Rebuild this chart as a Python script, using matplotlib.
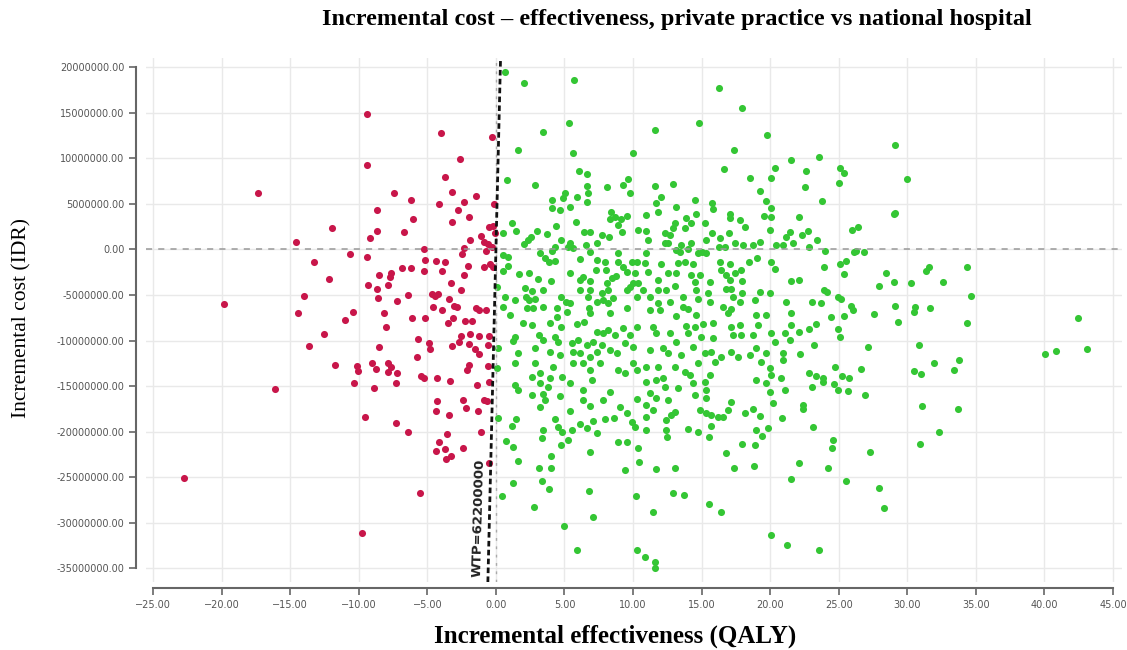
import numpy as np
import matplotlib
matplotlib.use("Agg")
import matplotlib.pyplot as plt
from matplotlib.ticker import FuncFormatter

# (incremental QALY, incremental cost in millions IDR)
red_points = [
    (-17.33, 6.23), (-11.98, 2.33), (-14.58, 0.79), (-13.29, -1.34), (-12.15, -3.27),
    (-14.02, -5.10), (-19.83, -6.02), (-14.43, -7.00), (-12.52, -9.31), (-13.65, -10.56),
    (-11.74, -12.65), (-16.13, -15.35), (-22.75, -25.05),
    (-9.43, 14.84), (-4.00, 12.75), (-0.26, 12.38), (-9.43, 9.24), (-2.64, 9.97),
    (-3.69, 7.92), (-7.46, 6.20), (-3.18, 6.27), (-6.17, 5.40), (-4.13, 5.00),
    (-2.33, 5.25), (-1.43, 5.91), (-8.65, 4.37), (-2.76, 4.30), (-6.07, 3.35),
    (-1.99, 3.53), (-3.18, 2.98), (-8.70, 2.07), (-6.73, 1.92), (-9.16, 1.22),
    (-1.91, 1.00), (-1.09, 1.52), (-0.50, 2.50), (-0.87, 0.86), (-0.60, 0.60),
    (-2.30, 0.16), (-5.22, 0.05), (-0.70, -0.13), (-10.62, -0.50), (-9.43, -0.79),
    (-2.47, -0.53), (-5.15, -1.19), (-4.35, -1.26), (-3.71, -1.41), (-2.06, -1.78),
    (-0.41, -1.59), (-0.87, -1.89), (-6.85, -2.07), (-6.17, -2.07), (-5.27, -2.36),
    (-3.96, -2.36), (-8.55, -2.80), (-7.65, -2.62), (-2.35, -2.80), (-7.72, -3.06),
    (-7.85, -3.90), (-9.33, -3.86), (-3.25, -3.64), (-8.65, -4.37), (-2.57, -4.45),
    (-8.60, -5.29), (-7.24, -5.69), (-6.44, -5.00), (-4.69, -4.92), (-4.44, -5.11),
    (-4.20, -4.92), (-4.56, -6.28), (-3.96, -6.61), (-3.40, -5.40), (-3.08, -6.20),
    (-2.81, -6.35), (-1.45, -6.46), (-1.23, -6.64), (-0.75, -6.64), (-10.40, -6.90),
    (-11.03, -7.74), (-8.16, -6.97), (-6.12, -7.52), (-5.17, -7.48), (-7.99, -8.55),
    (-3.47, -8.07), (-3.10, -7.56), (-2.25, -7.85), (-1.77, -7.85), (-5.71, -9.79),
    (-4.88, -10.30), (-4.83, -10.89), (-2.52, -9.46), (-1.87, -9.28), (-1.21, -9.46),
    (-0.50, -9.53), (-2.69, -10.12), (-3.18, -10.59), (-1.97, -10.41), (-1.52, -10.96),
    (-1.21, -11.51), (-0.55, -10.48), (-8.53, -10.67), (-5.73, -11.76), (-10.13, -12.75),
    (-10.06, -13.34), (-9.06, -12.46), (-8.75, -13.08), (-7.85, -12.46), (-7.68, -12.90),
    (-7.85, -13.41), (-7.24, -13.59), (-5.46, -13.89), (-5.22, -14.14), (-4.32, -14.14),
    (-1.97, -12.68), (-2.13, -13.23), (-0.55, -12.79), (-10.35, -14.69), (-8.87, -15.20),
    (-7.29, -14.69), (-3.32, -14.40), (-1.38, -14.84), (-0.53, -14.58), (-4.30, -16.67),
    (-4.39, -17.73), (-2.42, -16.48), (-2.21, -17.40), (-1.30, -17.73), (-0.89, -16.52),
    (-0.62, -16.59), (-9.52, -18.39), (-3.40, -18.13), (-7.26, -19.08), (-6.44, -20.03),
    (-3.59, -20.29), (-4.17, -21.09), (-4.39, -22.08), (-3.71, -21.94), (-3.64, -23.04),
    (-3.30, -22.67), (-2.42, -21.79), (-1.06, -20.03), (-0.50, -23.47), (-5.51, -26.77),
    (-9.79, -31.08), (-0.15, 5.00), (-0.20, 2.60), (-0.10, 1.80), (-0.25, 0.30),
    (-0.20, -1.90),
]

green_points = [
    # upper left block
    (0.66, 19.45), (2.07, 18.24), (5.70, 18.60), (5.33, 13.92), (3.46, 12.90),
    (1.59, 10.92), (5.60, 10.63), (9.98, 10.56), (6.04, 8.62), (6.62, 8.25),
    (0.83, 7.63), (2.88, 7.08), (6.62, 6.90), (8.08, 6.82), (9.66, 7.77),
    (9.30, 7.04), (6.69, 6.24), (5.04, 6.16), (4.92, 5.62), (5.89, 5.73),
    (4.09, 5.43), (6.67, 5.25), (9.78, 6.16), (4.12, 4.52), (4.68, 4.33),
    (5.40, 4.70), (8.40, 4.15), (8.69, 3.60), (8.32, 3.31), (9.10, 3.31),
    (9.54, 3.68), (1.15, 2.94), (4.38, 2.61), (5.84, 2.98), (0.54, 1.85),
    (1.47, 2.07), (2.97, 2.07), (3.75, 1.70), (6.45, 1.92), (6.86, 1.92),
    (7.74, 1.63), (8.27, 1.37), (8.88, 2.72), (9.20, 1.92), (10.34, 2.14),
    (2.56, 1.41), (2.32, 1.04), (2.07, 0.60), (4.72, 1.04), (5.40, 0.68),
    (5.23, 0.31), (5.60, 0.13), (4.31, 0.31), (4.07, -0.13), (6.57, 0.46),
    (7.35, 0.68), (6.86, -0.24), (0.49, -0.61), (0.91, -0.79), (3.22, -0.42),
    (3.58, -0.97), (3.90, -1.34), (4.34, -1.30), (6.13, -1.08), (7.35, -1.15),
    (7.98, -1.34), (8.88, -0.42), (8.93, -1.34), (9.30, -1.89), (9.54, -2.43),
    (9.90, -1.34), (10.32, -1.34), (0.91, -1.78), (0.54, -2.32), (1.66, -2.73),
    (2.44, -2.62), (3.05, -3.24), (4.02, -3.42), (5.40, -2.62), (6.13, -3.35),
    (6.38, -3.06), (6.86, -3.42), (7.30, -2.25), (8.03, -2.25), (8.44, -3.17),
    (8.76, -2.87), (8.08, -3.64), (10.15, -2.62), (10.02, -3.64), (10.39, -3.64),
    (0.06, -4.08), (2.12, -4.26), (2.61, -4.52), (3.41, -4.45), (6.13, -4.45),
    (6.86, -4.45), (7.71, -4.81), (8.20, -4.45), (9.54, -4.45), (9.78, -4.08),
    (0.66, -5.18), (2.20, -5.25), (2.44, -5.54), (2.85, -5.47), (4.75, -5.25),
    (5.11, -5.73), (5.40, -5.84), (6.74, -5.25), (7.35, -5.73), (7.84, -5.54),
    (8.20, -5.84), (8.57, -5.36), (10.27, -5.18), (1.39, -5.54), (0.54, -6.28),
    (2.24, -6.46), (2.73, -6.46), (3.46, -6.28), (4.43, -6.46), (5.16, -6.83),
    (6.77, -6.46), (6.86, -7.01), (8.32, -7.01), (9.54, -6.46), (1.03, -7.19),
    (4.43, -7.37),
    # upper middle block
    (16.25, 17.69), (17.93, 15.49), (14.79, 13.85), (11.63, 13.12), (19.80, 12.53),
    (17.37, 10.85), (21.55, 9.82), (20.33, 8.91), (16.64, 8.80), (18.51, 7.81),
    (20.09, 7.81), (11.63, 7.00), (12.92, 7.19), (19.24, 6.42), (12.07, 5.73),
    (11.70, 5.07), (14.50, 5.43), (15.79, 5.07), (15.84, 4.41), (13.16, 4.70),
    (19.73, 5.32), (20.09, 4.52), (11.82, 4.15), (10.92, 3.79), (17.05, 3.90),
    (17.10, 3.42), (19.53, 3.68), (20.09, 3.60), (13.89, 3.42), (14.62, 3.90),
    (15.23, 2.87), (13.09, 2.87), (14.26, 2.87), (17.78, 3.24), (18.15, 2.50),
    (12.92, 2.32), (13.77, 2.32), (19.97, 2.14), (10.92, 2.07), (12.31, 1.77),
    (12.68, 1.59), (15.79, 1.85), (17.00, 1.77), (21.14, 1.41), (21.43, 1.96),
    (11.09, 1.04), (12.31, 0.68), (12.55, 0.75), (15.35, 1.04), (16.32, 1.23),
    (14.26, 0.75), (13.53, 0.49), (16.25, 0.31), (16.69, 0.24), (17.42, 0.68),
    (18.02, 0.49), (18.75, 0.49), (19.24, 0.86), (20.46, 0.49), (20.94, 0.49),
    (21.67, 0.75), (10.97, -0.42), (13.16, -0.06), (13.40, -0.24), (14.01, 0.02),
    (15.06, -0.24), (15.30, -0.42), (14.74, -0.42), (10.85, -1.45), (12.07, -1.59),
    (13.28, -1.52), (13.77, -1.41), (14.38, -1.59), (16.32, -1.34), (17.05, -1.59),
    (18.46, -1.34), (19.04, -0.97), (20.09, -1.34), (11.09, -2.43), (12.55, -2.62),
    (13.16, -2.62), (14.21, -2.80), (14.91, -2.80), (16.44, -2.25), (16.81, -2.80),
    (17.42, -2.62), (17.90, -2.25), (20.36, -2.18), (11.82, -3.35), (14.50, -3.53),
    (15.59, -3.53), (17.10, -3.35), (17.98, -3.42), (21.55, -3.42), (10.73, -4.45),
    (11.82, -4.45), (12.43, -4.45), (13.04, -4.01), (14.62, -4.45), (15.47, -4.81),
    (16.81, -4.37), (17.17, -4.37), (17.98, -4.81), (19.24, -4.63), (19.97, -4.81),
    (11.22, -5.18), (11.82, -5.84), (12.68, -5.73), (13.65, -5.25), (14.74, -5.47),
    (15.59, -5.73), (17.29, -5.25), (18.88, -5.54), (17.78, -5.73), (21.18, -5.73),
    (11.22, -6.64), (11.95, -6.64), (13.65, -6.28), (14.01, -6.57), (16.57, -6.28),
    (17.17, -6.57), (16.93, -7.01), (13.11, -7.30), (14.62, -7.19), (19.00, -7.19),
    (19.73, -7.19), (21.55, -7.01),
    # upper right block
    (29.14, 11.47), (23.59, 10.19), (22.62, 8.62), (25.12, 8.91), (25.37, 8.36),
    (30.01, 7.77), (22.52, 6.82), (25.00, 7.26), (23.76, 5.36), (22.08, 3.53),
    (29.01, 3.90), (29.14, 4.04), (26.39, 2.50), (25.95, 2.14), (22.74, 2.07),
    (22.33, 1.59), (23.40, 1.04), (22.86, 0.24), (24.03, -0.13), (26.14, -0.28),
    (26.27, -0.13), (26.83, -0.24), (25.54, -1.26), (25.12, -1.59), (23.96, -1.89),
    (25.37, -2.73), (28.45, -2.62), (31.62, -1.89), (31.37, -2.32), (22.08, -3.35),
    (27.97, -3.97), (29.01, -3.60), (30.28, -3.71), (32.59, -3.53), (23.91, -4.45),
    (24.13, -4.67), (24.93, -5.25), (25.17, -5.47), (23.06, -5.80), (23.74, -5.91),
    (25.90, -6.20), (26.07, -6.64), (27.55, -7.12), (29.14, -6.20), (30.57, -6.28),
    (30.52, -6.90), (31.66, -6.46), (24.44, -7.45), (25.37, -7.30), (34.39, -1.89),
    (34.68, -5.07), (42.46, -7.56),
    # lower left block
    (2.00, -8.03), (2.61, -8.29), (3.95, -8.11), (4.72, -8.47), (5.89, -8.18),
    (6.45, -7.92), (7.35, -9.02), (7.84, -9.20), (8.20, -8.84), (8.69, -9.39),
    (9.30, -8.65), (9.78, -9.39), (10.27, -8.47), (1.39, -9.57), (1.22, -10.01),
    (3.17, -9.39), (3.46, -9.93), (4.31, -9.57), (4.55, -10.12), (5.53, -10.30),
    (6.01, -9.93), (6.62, -10.48), (7.11, -10.12), (7.71, -10.48), (0.18, -10.85),
    (1.64, -11.40), (2.85, -10.85), (3.95, -11.22), (4.68, -11.58), (5.65, -11.22),
    (6.13, -11.40), (6.86, -11.77), (7.35, -11.22), (8.32, -11.03), (8.81, -11.40),
    (9.42, -10.30), (10.02, -10.67), (0.06, -13.04), (1.39, -12.50), (2.85, -12.50),
    (4.19, -12.86), (5.65, -12.50), (6.38, -12.50), (6.86, -13.23), (7.59, -12.50),
    (8.93, -13.23), (9.42, -13.59), (10.02, -12.50), (10.27, -13.23), (2.61, -13.96),
    (3.22, -13.59), (3.95, -14.14), (4.80, -13.96), (5.40, -14.69), (1.39, -14.87),
    (1.64, -15.42), (3.22, -14.69), (3.82, -15.06), (6.98, -14.33), (2.61, -15.97),
    (3.46, -15.86), (4.68, -16.08), (6.38, -15.42), (6.86, -17.18), (7.84, -16.52),
    (8.32, -15.61), (9.05, -17.25), (9.54, -17.99), (10.27, -16.45), (3.22, -17.25),
    (3.58, -16.52), (5.40, -17.69), (6.38, -16.52), (0.18, -18.53), (1.47, -18.61),
    (1.15, -19.38), (3.46, -19.81), (4.31, -18.61), (4.55, -19.45), (4.80, -19.99),
    (5.53, -19.81), (6.13, -19.16), (6.62, -19.63), (7.11, -18.79), (7.35, -20.18),
    (7.96, -18.61), (8.61, -18.53), (9.90, -18.90), (10.15, -19.45), (3.34, -20.73),
    (5.28, -20.91), (4.73, -21.46), (0.74, -20.98), (1.27, -21.72), (8.93, -21.10),
    (9.54, -21.10), (10.39, -21.83), (6.86, -22.27), (1.64, -23.18), (4.02, -22.67),
    (3.17, -23.95), (4.02, -23.95), (9.42, -24.21), (10.46, -23.29), (1.27, -25.67),
    (3.39, -25.41), (3.90, -26.33), (6.79, -26.51), (0.47, -27.06), (10.20, -27.02),
    (2.80, -28.30), (7.06, -29.33), (4.97, -30.35), (5.89, -32.99), (10.27, -32.99),
    # lower middle block
    (11.70, -9.20), (11.46, -8.47), (12.68, -9.20), (13.16, -10.12), (13.89, -8.40),
    (14.50, -8.47), (15.11, -8.18), (15.84, -8.03), (14.01, -9.20), (14.99, -9.57),
    (15.84, -9.75), (17.17, -8.47), (17.78, -8.29), (17.29, -9.39), (17.90, -9.39),
    (18.75, -9.39), (19.12, -8.29), (20.09, -9.20), (20.33, -10.12), (21.06, -9.20),
    (21.55, -8.29), (21.43, -9.93), (11.22, -11.03), (12.19, -10.85), (12.55, -11.40),
    (13.53, -11.58), (14.38, -10.67), (15.23, -11.40), (15.71, -11.22), (16.44, -11.77),
    (17.17, -11.22), (17.66, -11.77), (18.51, -11.58), (18.99, -10.85), (19.36, -12.31),
    (19.73, -11.40), (20.94, -11.40), (20.94, -12.13), (10.97, -12.86), (11.82, -12.86),
    (13.04, -12.86), (13.77, -13.41), (14.74, -12.50), (15.59, -13.78), (15.96, -12.31),
    (18.99, -14.33), (19.97, -13.04), (20.09, -13.78), (20.82, -14.14), (10.97, -14.51),
    (11.70, -14.33), (12.19, -14.14), (12.31, -15.06), (13.28, -15.24), (14.13, -13.78),
    (14.38, -14.69), (14.50, -15.97), (15.23, -14.51), (15.35, -15.42), (15.35, -16.34),
    (19.73, -14.69), (19.97, -15.61), (21.06, -15.42), (11.22, -15.79), (11.70, -16.34),
    (12.55, -16.52), (10.97, -17.07), (11.46, -17.62), (13.04, -17.80), (12.80, -18.17),
    (14.86, -17.62), (15.35, -17.99), (15.71, -18.17), (16.20, -18.35), (16.57, -18.35),
    (16.93, -17.62), (17.17, -16.70), (18.15, -17.91), (18.75, -17.55), (19.24, -18.28),
    (20.21, -16.89), (20.89, -18.53), (10.97, -18.35), (12.43, -18.72), (12.38, -19.81),
    (12.48, -20.62), (14.01, -19.74), (14.74, -19.99), (15.71, -19.38), (15.55, -20.62),
    (19.00, -19.81), (19.85, -19.63), (19.43, -20.47), (10.97, -19.81), (17.98, -21.39),
    (18.88, -21.46), (16.81, -22.30), (11.70, -24.13), (13.04, -23.95), (17.34, -24.02),
    (18.80, -23.73), (21.55, -25.23), (12.92, -26.69), (13.70, -26.99), (15.54, -27.94),
    (16.44, -28.78), (11.46, -28.78), (20.09, -31.34), (21.26, -32.44), (10.85, -33.72),
    (11.58, -34.27), (11.58, -35.00),
    # lower right block
    (23.35, -8.22), (22.86, -8.76), (22.08, -9.02), (24.93, -8.76), (25.10, -9.64),
    (29.35, -7.92), (23.23, -10.48), (27.12, -10.67), (30.84, -10.48), (22.18, -11.47),
    (31.93, -12.50), (24.76, -12.94), (26.63, -13.16), (30.52, -13.34), (31.01, -13.70),
    (22.86, -13.59), (23.35, -13.89), (23.83, -14.14), (23.83, -14.51), (25.24, -13.89),
    (25.73, -14.14), (24.69, -14.80), (24.93, -15.42), (25.66, -15.53), (23.06, -15.13),
    (26.95, -15.97), (22.42, -17.07), (22.42, -17.51), (31.08, -17.18), (23.15, -19.49),
    (32.30, -20.07), (24.61, -20.91), (24.52, -21.83), (27.29, -22.19), (30.93, -21.35),
    (22.13, -23.47), (24.22, -24.02), (25.54, -25.45), (27.92, -26.14), (28.33, -28.41),
    (23.54, -32.99), (34.34, -8.11), (33.78, -12.13), (33.41, -13.23), (33.73, -17.55),
    (40.03, -11.51), (40.83, -11.14), (43.14, -10.92),
]

wtp = 62200000
x_ticks = np.arange(-25, 46, 5)
y_ticks = np.arange(-35, 21, 5) * 1e6

red = np.array(red_points)
green = np.array(green_points)

fig = plt.figure(figsize=(11.27, 6.5), dpi=100)
ax = fig.add_axes([146 / 1127, 1 - 582 / 650, 976 / 1127, 524 / 650])

ax.set_xlim(-25.52, 45.66)
ax.set_ylim(-36.5e6, 21.0e6)
ax.set_xticks(x_ticks)
ax.set_yticks(y_ticks)
ax.xaxis.set_major_formatter(FuncFormatter(lambda v, p: f"{v:.2f}".replace("-", "\u2212")))
ax.yaxis.set_major_formatter(FuncFormatter(lambda v, p: f"{v:.2f}"))

ax.grid(True, color="#e9e9e9", linewidth=1.0, zorder=0)
ax.set_axisbelow(True)

for side in ["top", "right"]:
    ax.spines[side].set_visible(False)
ax.spines["left"].set_position(("outward", 7))
ax.spines["bottom"].set_position(("outward", 4.5))
ax.spines["left"].set_bounds(-35e6, 20e6)
ax.spines["bottom"].set_bounds(-25, 45)
for side in ["left", "bottom"]:
    ax.spines[side].set_color("#666666")
    ax.spines[side].set_linewidth(1.5)
ax.tick_params(axis="both", colors="#666666", width=1.2, length=5,
               labelsize=7, labelcolor="#555555")

# reference lines
ax.axhline(0, color="#999999", linestyle=(0, (4, 4)), linewidth=1.1, zorder=3)
ax.axvline(0, color="#aaaaaa", linestyle=(0, (2, 4)), linewidth=1.0, zorder=3)

ax.scatter(green[:, 0], green[:, 1] * 1e6, s=26, color="#34c634", linewidths=0, zorder=2)
ax.scatter(red[:, 0], red[:, 1] * 1e6, s=26, color="#c8164a", linewidths=0, zorder=2)

# willingness-to-pay threshold line
yl = np.array(ax.get_ylim())
ax.plot(yl / wtp, yl, color="#111111", linestyle=(0, (2, 1.2)), linewidth=2.0, zorder=4)
ax.text(-1.25, -29.5e6, f"WTP={wtp}", rotation=88.5, ha="center", va="center",
        fontsize=9.5, color="#222222", fontweight="bold", family="DejaVu Sans")

fig.text(677 / 1127, 1 - 20 / 650,
         "Incremental cost \u2013 effectiveness, private practice vs national hospital",
         ha="center", va="center", fontsize=17.5, fontweight="bold", family="Liberation Serif")
fig.text(615 / 1127, 1 - 636 / 650, "Incremental effectiveness (QALY)",
         ha="center", va="center", fontsize=18, fontweight="bold", family="Liberation Serif")
fig.text(22 / 1127, 1 - 318 / 650, "Incremental cost (IDR)", rotation=90,
         ha="center", va="center", fontsize=15.5, family="Liberation Serif")

fig.savefig("out.png", dpi=100)
